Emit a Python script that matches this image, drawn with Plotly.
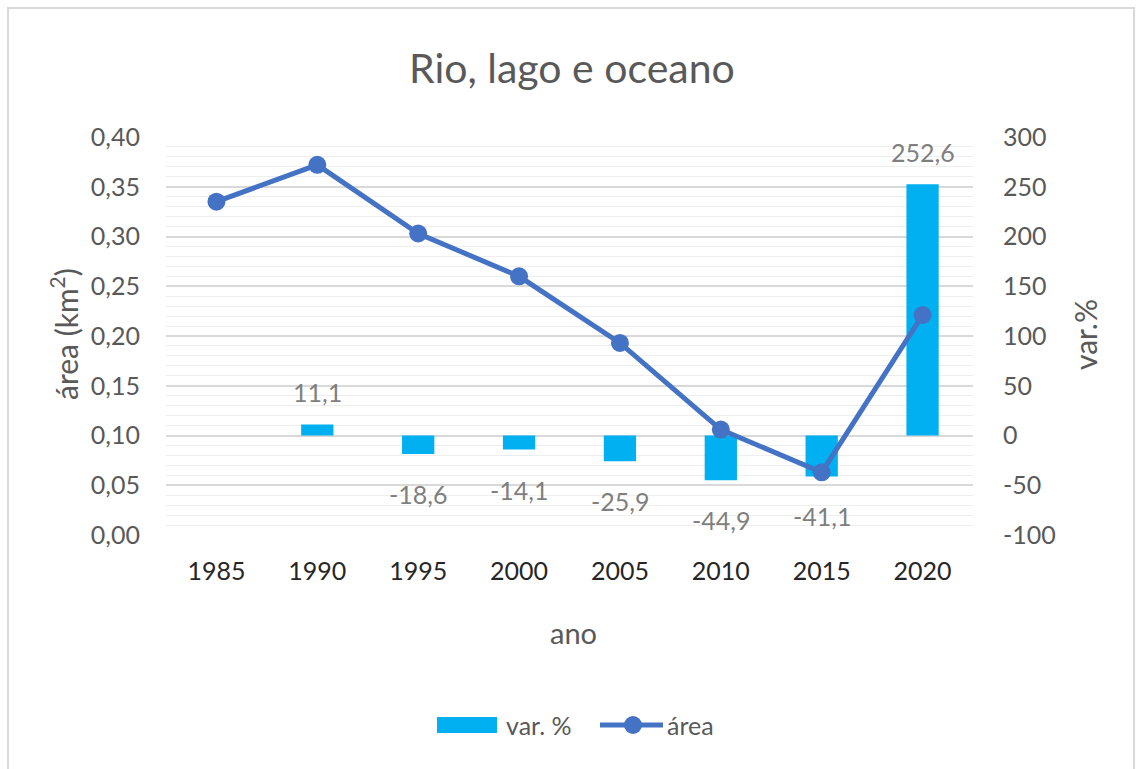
import plotly.graph_objects as go

anos = [1985, 1990, 1995, 2000, 2005, 2010, 2015, 2020]
area_km2 = [0.335, 0.372, 0.303, 0.260, 0.193, 0.106, 0.063, 0.221]
var_pct = [None, 11.1, -18.6, -14.1, -25.9, -44.9, -41.1, 252.6]

area_ticks = [0, 0.05, 0.10, 0.15, 0.20, 0.25, 0.30, 0.35, 0.40]
area_ticktext = ["0,00", "0,05", "0,10", "0,15", "0,20", "0,25", "0,30", "0,35", "0,40"]
var_ticks = [-100, -50, 0, 50, 100, 150, 200, 250, 300]
var_ticktext = ["-100", "-50", "0", "50", "100", "150", "200", "250", "300"]

FONT = "Lato"
GRAY = "#595959"
LBL = "#7f7f7f"
BAR = "#00B0F0"
LINE = "#4472C4"

W, H = 1136, 769
L, R, T, B = 166, 973, 137, 535
def px(x):
    return (x - L) / (R - L)
def py(y):
    return (B - y) / (B - T)

fig = go.Figure()
fig.add_trace(go.Bar(x=anos, y=var_pct, yaxis="y", marker=dict(color=BAR, line=dict(width=0)),
                     width=1.6, name="var. %", showlegend=False))
fig.add_trace(go.Scatter(x=anos, y=area_km2, yaxis="y2", mode="lines+markers",
                         line=dict(color=LINE, width=5), marker=dict(size=18, color=LINE),
                         name="área", showlegend=False))

annotations = []
for a, v in zip(anos, var_pct):
    if v is None:
        continue
    annotations.append(dict(x=a, y=v, xref="x", yref="y", text=f"{v:.1f}".replace(".", ","),
                            showarrow=False, yshift=32 if v > 0 else -40,
                            font=dict(family=FONT, size=25, color=LBL)))

annotations += [
    dict(x=px(572), y=py(68), xref="paper", yref="paper", text="Rio, lago e oceano", showarrow=False,
         font=dict(family=FONT, size=41, color=GRAY), xanchor="center", yanchor="middle"),
    dict(x=px(64), y=py(334), xref="paper", yref="paper", text="área (km<sup>2</sup>)", showarrow=False,
         textangle=-90, font=dict(family=FONT, size=30, color=GRAY), xanchor="center", yanchor="middle"),
    dict(x=px(1085), y=py(335), xref="paper", yref="paper", text="var.%", showarrow=False,
         textangle=-90, font=dict(family=FONT, size=30, color=GRAY), xanchor="center", yanchor="middle"),
    dict(x=px(573), y=py(632), xref="paper", yref="paper", text="ano", showarrow=False,
         font=dict(family=FONT, size=29, color=GRAY), xanchor="center", yanchor="middle"),
    dict(x=px(504), y=py(725), xref="paper", yref="paper", text="var. %", showarrow=False,
         font=dict(family=FONT, size=25, color=GRAY), xanchor="left", yanchor="middle"),
    dict(x=px(665), y=py(725), xref="paper", yref="paper", text="área", showarrow=False,
         font=dict(family=FONT, size=25, color=GRAY), xanchor="left", yanchor="middle"),
]

shapes = [
    dict(type="rect", xref="paper", yref="paper", x0=px(8), x1=px(1134), y0=py(800), y1=py(8),
         line=dict(color="#d9d9d9", width=2), fillcolor="rgba(0,0,0,0)", layer="below"),
    dict(type="rect", xref="paper", yref="paper", x0=px(437), x1=px(497), y0=py(733), y1=py(717),
         line=dict(width=0), fillcolor=BAR),
    dict(type="line", xref="paper", yref="paper", x0=px(600), x1=px(663), y0=py(725), y1=py(725),
         line=dict(color=LINE, width=5)),
    dict(type="circle", xref="paper", yref="paper", x0=px(624), x1=px(642), y0=py(734), y1=py(716),
         line=dict(width=0), fillcolor=LINE),
]

fig.update_layout(
    width=W, height=H,
    margin=dict(l=L, r=W - R, t=T, b=H - B, pad=0),
    paper_bgcolor="white", plot_bgcolor="white",
    showlegend=False,
    xaxis=dict(type="linear", range=[anos[0] - 2.5, anos[-1] + 2.5], tickvals=anos,
               ticktext=[str(a) for a in anos],
               showgrid=False, showline=False, zeroline=False,
               ticks="outside", ticklen=14, tickcolor="rgba(0,0,0,0)",
               tickfont=dict(family=FONT, size=25, color="#262626")),
    yaxis=dict(side="right", range=[-100, 300], tickvals=var_ticks, ticktext=var_ticktext,
               showgrid=False, zeroline=False, showline=False,
               ticks="outside", ticklen=24, tickcolor="rgba(0,0,0,0)",
               tickfont=dict(family=FONT, size=25, color=GRAY)),
    yaxis2=dict(side="left", overlaying="y", range=[0, 0.40], tickvals=area_ticks, ticktext=area_ticktext,
                showgrid=True, gridcolor="#d9d9d9", gridwidth=1.5, zeroline=False, showline=False,
                minor=dict(dtick=0.01, tick0=0, showgrid=True, gridcolor="#eeeeee", gridwidth=1),
                ticks="outside", ticklen=20, tickcolor="rgba(0,0,0,0)",
                tickfont=dict(family=FONT, size=25, color=GRAY)),
    annotations=annotations,
    shapes=shapes,
)

fig.write_html("out.html")
